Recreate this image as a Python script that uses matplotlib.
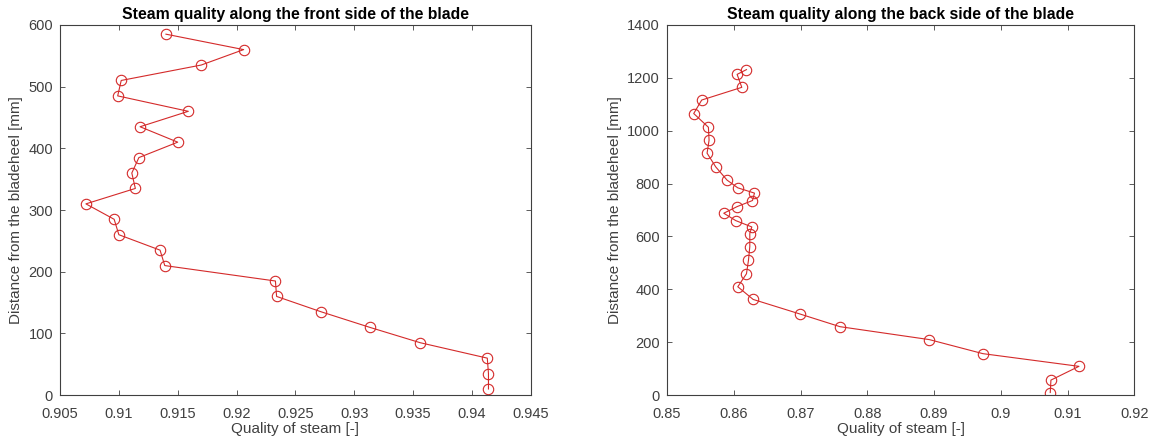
import matplotlib
matplotlib.use("Agg")
import matplotlib.pyplot as plt

plt.rcParams['font.family'] = ['Liberation Sans', 'DejaVu Sans']

# Front side data (distance [mm], quality [-])
front_dist = [10, 35, 60, 85, 110, 135, 160, 185, 210, 235, 260, 285,
              310, 335, 360, 385, 410, 435, 460, 485, 510, 535, 560, 585]
front_quality = [0.9414, 0.9414, 0.9413, 0.9356, 0.9313, 0.9272, 0.9234, 0.9233,
                 0.9139, 0.9135, 0.9100, 0.9096, 0.9072, 0.9114, 0.9111, 0.9117,
                 0.9150, 0.9118, 0.9159, 0.9099, 0.9102, 0.9170, 0.9206, 0.9140]

# Back side data
back_dist = [10, 57, 109, 157, 210, 259, 307, 362, 410, 459, 510, 562, 611, 636,
             660, 688, 713, 736, 764, 784, 813, 863, 915, 964, 1013, 1065, 1116,
             1164, 1213, 1231]
back_quality = [0.9074, 0.9075, 0.9117, 0.8973, 0.8893, 0.8759, 0.8699, 0.8629,
                0.8606, 0.8619, 0.8622, 0.8624, 0.8624, 0.8627, 0.8603, 0.8585,
                0.8605, 0.8628, 0.8631, 0.8606, 0.8590, 0.8573, 0.8560, 0.8563,
                0.8562, 0.8540, 0.8552, 0.8612, 0.8605, 0.8619]

front_xticks = [0.905, 0.91, 0.915, 0.92, 0.925, 0.93, 0.935, 0.94, 0.945]
front_xlabels = ['0.905', '0.91', '0.915', '0.92', '0.925', '0.93', '0.935', '0.94', '0.945']
front_yticks = [0, 100, 200, 300, 400, 500, 600]
back_xticks = [0.85, 0.86, 0.87, 0.88, 0.89, 0.9, 0.91, 0.92]
back_xlabels = ['0.85', '0.86', '0.87', '0.88', '0.89', '0.9', '0.91', '0.92']
back_yticks = [0, 200, 400, 600, 800, 1000, 1200, 1400]

titles = ['Steam quality along the front side of the blade',
          'Steam quality along the back side of the blade']
xlabel = 'Quality of steam [-]'
ylabel = 'Distance from the bladeheel [mm]'

line_color = '#d42a2a'
axis_color = '#404040'

fig = plt.figure(figsize=(11.54, 4.45), dpi=100)
ax1 = fig.add_axes([0.052, 0.112, 0.408, 0.832])
ax2 = fig.add_axes([0.578, 0.112, 0.405, 0.832])

specs = [
    (ax1, front_quality, front_dist, front_xticks, front_xlabels, front_yticks, (0.905, 0.945), (0, 600), titles[0]),
    (ax2, back_quality, back_dist, back_xticks, back_xlabels, back_yticks, (0.85, 0.92), (0, 1400), titles[1]),
]

for ax, xs, ys, xt, xtl, yt, xl, yl, title in specs:
    ax.plot(xs, ys, color=line_color, linewidth=0.8, marker='o', markersize=7.5,
            markerfacecolor='none', markeredgecolor=line_color, markeredgewidth=0.8)
    ax.set_xlim(*xl)
    ax.set_ylim(*yl)
    ax.set_xticks(xt)
    ax.set_xticklabels(xtl)
    ax.set_yticks(yt)
    ax.tick_params(direction='in', length=3.5, width=0.6, top=True, right=True,
                   colors=axis_color, labelsize=10.5)
    ax.tick_params(axis='x', pad=8.5)
    ax.tick_params(axis='y', pad=5)
    for s in ax.spines.values():
        s.set_color(axis_color)
        s.set_linewidth(0.8)
    ax.set_title(title, fontsize=11.3, fontweight='bold', color='black', pad=4)
    ax.set_xlabel(xlabel, fontsize=11, color=axis_color, labelpad=1)
    ax.set_ylabel(ylabel, fontsize=11, color=axis_color, labelpad=4)

fig.savefig('out.png', dpi=100)
